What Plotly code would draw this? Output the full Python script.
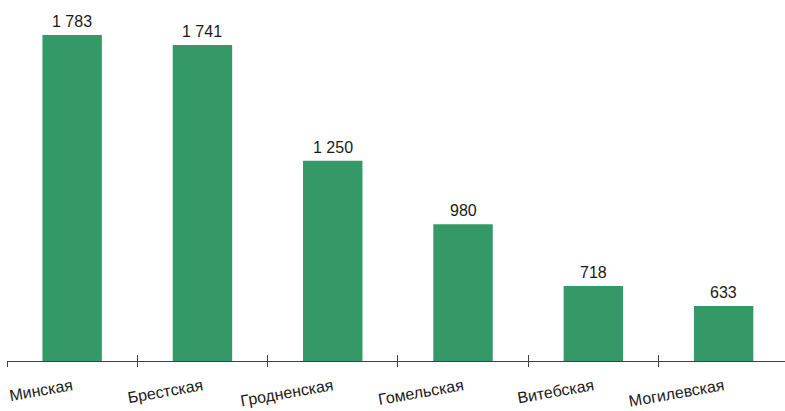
import plotly.graph_objects as go

categories = ["Минская", "Брестская", "Гродненская", "Гомельская", "Витебская", "Могилевская"]
values = [1783, 1741, 1250, 980, 718, 633]
value_labels = ["1 783", "1 741", "1 250", "980", "718", "633"]

BAR_COLOR = "#349966"
AXIS_COLOR = "#404040"
FONT = "Liberation Sans, Arial, sans-serif"

fig = go.Figure()
fig.add_trace(go.Bar(
    x=categories, y=values, marker=dict(color=BAR_COLOR, line=dict(width=0)),
    width=0.456, hoverinfo="skip",
))

for c, v, t in zip(categories, values, value_labels):
    fig.add_annotation(x=c, y=v, text=t, showarrow=False, yanchor="bottom",
                       yshift=3, font=dict(family=FONT, size=16, color="#1a1a1a"))

n = len(categories)
fig.update_layout(
    width=785, height=411,
    margin=dict(l=7, r=0, t=0, b=50),
    plot_bgcolor="white", paper_bgcolor="white",
    showlegend=False,
    font=dict(family=FONT, size=16, color="#1a1a1a"),
    xaxis=dict(
        type="category", range=[-0.5, 5.471],
        showline=True, linecolor=AXIS_COLOR, linewidth=1,
        ticks="outside", ticklen=5, tickcolor=AXIS_COLOR, tickwidth=1,
        tickson="boundaries", tickangle=-10, showgrid=False,
        ticklabelstandoff=9,
        tickfont=dict(family=FONT, size=16, color="#1a1a1a"),
    ),
    xaxis2=dict(
        overlaying="x", anchor="y", range=[-0.5, 5.471], showline=False,
        ticks="inside", ticklen=6, tickcolor=AXIS_COLOR, tickwidth=1,
        tickmode="array", tickvals=[i - 0.5 for i in range(n + 1)],
        showticklabels=False, showgrid=False, zeroline=False, side="bottom",
    ),
    yaxis=dict(range=[400, 1932], visible=False, showgrid=False),
)
fig.add_trace(go.Scatter(x=[0], y=[400], xaxis="x2", mode="markers",
                         marker=dict(opacity=0), hoverinfo="skip"))

fig.write_html("out.html", config={"displayModeBar": False},
               post_script="document.body.style.margin='0';")
